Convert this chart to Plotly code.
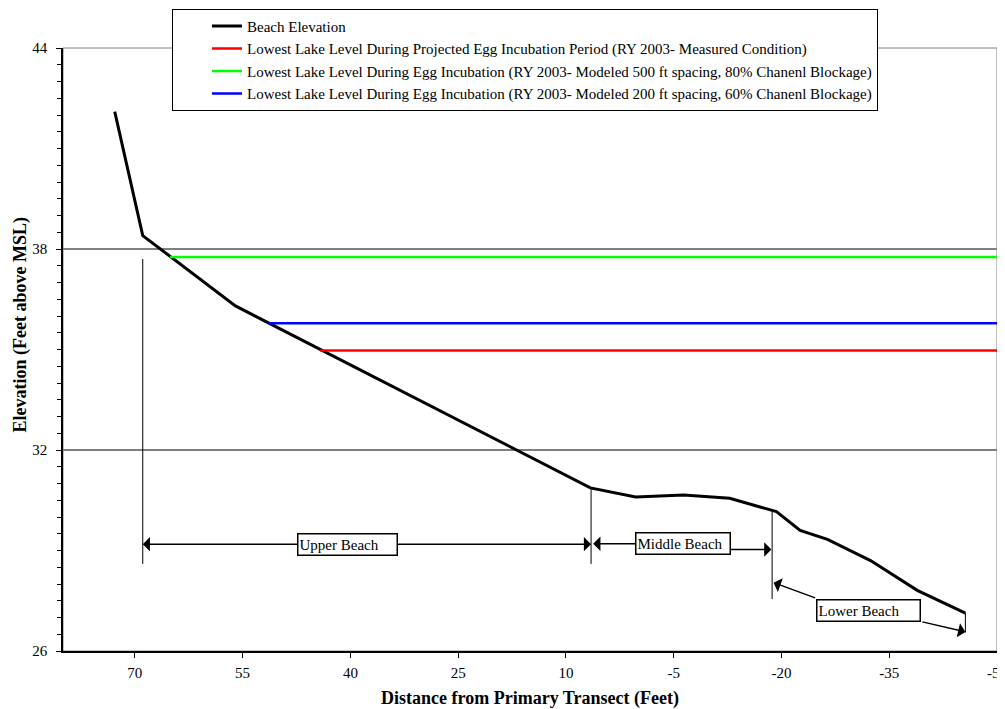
import plotly.graph_objects as go

# Beach profile (distance from primary transect, ft) and elevation (ft above MSL)
beach_dist = [72.8, 68.9, 56.0, 6.6, 0.3, -6.4, -12.8, -19.3, -22.6, -26.4, -32.4, -38.9, -45.6]
beach_elev = [42.1, 38.4, 36.3, 30.87, 30.6, 30.66, 30.56, 30.16, 29.6, 29.33, 28.7, 27.81, 27.13]

# Lowest lake levels: start distance and level, drawn out to the right edge
lake_names = [
    "Lowest Lake Level During Projected Egg Incubation Period (RY 2003- Measured Condition)",
    "Lowest Lake Level During Egg Incubation (RY 2003- Modeled 500 ft spacing, 80% Chanenl Blockage)",
    "Lowest Lake Level During Egg Incubation (RY 2003- Modeled 200 ft spacing, 60% Chanenl Blockage)",
]
lake_start = [44.2, 65.1, 51.4]
lake_level = [34.97, 37.76, 35.78]
lake_end = -50
lake_colors = ["#ff0000", "#00ff00", "#0000ff"]

# Zone boundary markers (distance, bottom, top)
marker_x = [68.9, 6.5, -18.7, -45.6]
marker_y0 = [28.6, 28.6, 27.55, 26.55]
marker_y1 = [37.7, 30.87, 30.16, 27.13]

# Zone labels (box centre) and their box widths
zone_labels = ["Upper Beach", "Middle Beach", "Lower Beach"]
label_x = [40.4, -6.35, -32.05]
label_y = [29.19, 29.2, 27.21]
label_w = [96, 91, 100]
# arrows: tail x, tail y, head x, head y
arrow_tail_x = [40.4, 40.4, -6.35, -6.35, -24.9, -39.4]
arrow_tail_y = [29.19, 29.19, 29.2, 29.03, 27.57, 26.88]
arrow_head_x = [68.9, 6.5, 6.2, -18.6, -18.9, -45.6]
arrow_head_y = [29.19, 29.19, 29.2, 29.03, 28.04, 26.57]

x_ticks = [70, 55, 40, 25, 10, -5, -20, -35, -50]
x_ticktext = ["70", "55", "40", "25", "10", "-5", "-20", "-35", "-50"]
y_ticks = [26, 32, 38, 44]

FONT = "Liberation Serif"

fig = go.Figure()

fig.add_trace(go.Scatter(
    x=beach_dist, y=beach_elev, mode="lines", name="Beach Elevation",
    line=dict(color="black", width=3), legendgroup="a",
))
for i, (name, x0, lvl, col) in enumerate(zip(lake_names, lake_start, lake_level, lake_colors)):
    fig.add_trace(go.Scatter(
        x=[x0, lake_end], y=[lvl, lvl], mode="lines", name=name,
        line=dict(color=col, width=2.5), legendgroup="lake%d" % i,
    ))

for mx, y0, y1 in zip(marker_x, marker_y0, marker_y1):
    fig.add_trace(go.Scatter(
        x=[mx, mx], y=[y0, y1], mode="lines", showlegend=False,
        line=dict(color="black", width=1), hoverinfo="skip",
    ))

for hline in [32, 38]:
    fig.add_hline(y=hline, line=dict(color="black", width=1), layer="below")

for tx, ty, hx, hy in zip(arrow_tail_x, arrow_tail_y, arrow_head_x, arrow_head_y):
    fig.add_annotation(
        x=hx, y=hy, ax=tx, ay=ty, xref="x", yref="y", axref="x", ayref="y",
        text="", showarrow=True, arrowhead=1, arrowsize=1.6, arrowwidth=1.5,
        arrowcolor="black",
    )

for txt, lx, ly, w in zip(zone_labels, label_x, label_y, label_w):
    fig.add_annotation(
        x=lx, y=ly, xref="x", yref="y", text=txt, showarrow=False,
        font=dict(family=FONT, size=15, color="black"),
        width=w, height=18, align="left",
        bgcolor="white", bordercolor="black", borderwidth=1.5, borderpad=1,
    )

# y-axis title sits a little above the axis centre in the original
fig.add_annotation(
    x=-0.046, y=0.54, xref="paper", yref="paper", xanchor="center", yanchor="middle",
    textangle=-90, text="<b>Elevation (Feet above MSL)</b>", showarrow=False,
    font=dict(family=FONT, size=18, color="black"),
)

# grey plot border (top/right)
fig.add_shape(type="rect", xref="paper", yref="paper", x0=0, y0=0, x1=1, y1=1,
              line=dict(color="#808080", width=1), layer="below")

# page body adds an 8px offset, so margins are shifted by 8px
fig.update_layout(
    width=1005, height=709,
    margin=dict(l=55, r=16, t=40, b=66, autoexpand=False),
    paper_bgcolor="white", plot_bgcolor="white",
    font=dict(family=FONT, size=15, color="black"),
    showlegend=True,
    legend=dict(
        x=0.1167, y=1.065, xanchor="left", yanchor="top",
        bgcolor="white", bordercolor="black", borderwidth=1,
        font=dict(family=FONT, size=15, color="black"),
        tracegroupgap=0, indentation=34,
    ),
)
fig.update_xaxes(
    range=[80, -50], tickmode="array", tickvals=x_ticks, ticktext=x_ticktext,
    ticks="outside", ticklen=5, ticklabeloverflow="allow",
    tickcolor="black", showline=True, linecolor="black", linewidth=1.5,
    showgrid=False, zeroline=False, ticklabelstandoff=2,
    tickfont=dict(family=FONT, size=15),
    title=dict(text="<b>Distance from Primary Transect (Feet)</b>",
               font=dict(family=FONT, size=18), standoff=12),
)
fig.update_yaxes(
    range=[26, 44], tickmode="array", tickvals=y_ticks, ticks="outside", ticklen=5,
    tickcolor="black", showline=True, linecolor="black", linewidth=1.5,
    showgrid=False, zeroline=False, ticklabelstandoff=6,
    minor=dict(dtick=0.5, ticks="outside", ticklen=4, tickcolor="black"),
    tickfont=dict(family=FONT, size=15),
)

fig.write_html("out.html")
